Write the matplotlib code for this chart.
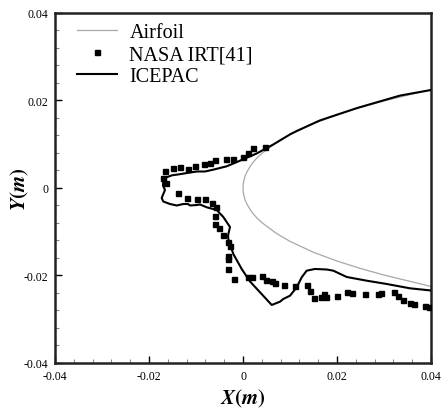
import numpy as np
import matplotlib
matplotlib.use("Agg")
import matplotlib.pyplot as plt
from matplotlib.ticker import MultipleLocator

plt.rcParams['font.family'] = ['Liberation Serif', 'DejaVu Serif']
plt.rcParams['mathtext.fontset'] = 'stix'

# perfil (semiespesor, simetrico)
perfil_x = [0.0, 0.00005, 0.0002, 0.0005, 0.001, 0.002, 0.003, 0.004, 0.007,
            0.010, 0.015, 0.020, 0.025, 0.030, 0.035, 0.040]
perfil_y = [0.0, 0.0009, 0.0018, 0.0029, 0.0040, 0.0057, 0.0069, 0.0079, 0.0103,
            0.0122, 0.0147, 0.0167, 0.0184, 0.0199, 0.0212, 0.0225]

# forma de hielo experimental (NASA IRT)
nasa_x = [0.00468, 0.00219, 0.00113, 0.00006, -0.00213, -0.00362, -0.00591, -0.00711,
          -0.00836, -0.01013, -0.01170, -0.01332, -0.01483, -0.01660, -0.01696, -0.01630,
          -0.01377, -0.01198, -0.00985, -0.00798, -0.00666, -0.00585, -0.00596, -0.00596,
          -0.00504, -0.00432, -0.00313, -0.00277, -0.00313, -0.00313, -0.00313, -0.00198,
          0.00113, 0.00185, 0.00398, 0.00489, 0.00611, 0.00681, 0.00877, 0.01117,
          0.01362, 0.01426, 0.01504, 0.01664, 0.01723, 0.01772, 0.02000, 0.02223,
          0.02313, 0.02589, 0.02868, 0.02940, 0.03206, 0.03304, 0.03411, 0.03547,
          0.03638, 0.03872, 0.03953]
nasa_y = [0.00930, 0.00903, 0.00805, 0.00709, 0.00667, 0.00663, 0.00651, 0.00571,
          0.00539, 0.00503, 0.00441, 0.00491, 0.00453, 0.00395, 0.00235, 0.00119,
          -0.00107, -0.00222, -0.00251, -0.00261, -0.00338, -0.00430, -0.00640, -0.00823,
          -0.00921, -0.01074, -0.01234, -0.01333, -0.01547, -0.01634, -0.01842, -0.02080,
          -0.02041, -0.02041, -0.02018, -0.02096, -0.02119, -0.02176, -0.02217, -0.02247,
          -0.02224, -0.02354, -0.02519, -0.02487, -0.02434, -0.02498, -0.02475, -0.02384,
          -0.02393, -0.02416, -0.02423, -0.02393, -0.02373, -0.02475, -0.02567, -0.02622,
          -0.02645, -0.02690, -0.02727]

# forma de hielo calculada (ICEPAC)
icepac_x = [0.04000, 0.03553, 0.03057, 0.02632, 0.02206, 0.01921, 0.01781, 0.01532,
            0.01426, 0.01355, 0.01249, 0.01143, 0.01000, 0.00857, 0.00787, 0.00611,
            0.00362, 0.00149, -0.00028, -0.00206, -0.00313, -0.00319, -0.00277, -0.00419,
            -0.00560, -0.00772, -0.00915, -0.00985, -0.01128, -0.01170, -0.01270, -0.01411,
            -0.01553, -0.01696, -0.01730, -0.01696, -0.01660, -0.01702, -0.01696, -0.01623,
            -0.01511, -0.01383, -0.01255, -0.01128, -0.00979, -0.00809, -0.00617, -0.00347,
            -0.00064, 0.00291, 0.00645, 0.01000, 0.01143, 0.01638, 0.02419, 0.03340, 0.04000]
icepac_y = [-0.02343, -0.02293, -0.02194, -0.02119, -0.02034, -0.01890, -0.01863, -0.01851,
            -0.01874, -0.01890, -0.02041, -0.02270, -0.02462, -0.02537, -0.02599, -0.02674,
            -0.02384, -0.02137, -0.01851, -0.01509, -0.01166, -0.01090, -0.00891, -0.00663,
            -0.00503, -0.00441, -0.00377, -0.00389, -0.00400, -0.00366, -0.00366, -0.00400,
            -0.00366, -0.00309, -0.00229, -0.00137, -0.00046, 0.00053, 0.00167, 0.00245,
            0.00290, 0.00309, 0.00331, 0.00354, 0.00377, 0.00377, 0.00423, 0.00496,
            0.00624, 0.00789, 0.00995, 0.01225, 0.01303, 0.01545, 0.01825, 0.02112, 0.02240]

ticks = [-0.04, -0.02, 0, 0.02, 0.04]
tick_labels = ['-0.04', '-0.02', '0', '0.02', '0.04']

px = np.array(perfil_x)
py = np.array(perfil_y)
contorno_x = np.r_[px[::-1], px[1:]]
contorno_y = np.r_[py[::-1], -py[1:]]

fig = plt.figure(figsize=(4.44, 4.14), dpi=100)
ax = fig.add_axes([0.1239, 0.1208, 0.8468, 0.8454])

ax.plot(contorno_x, contorno_y, color='#a8a8a8', lw=0.9, label='Airfoil', zorder=2)
ax.plot(nasa_x, nasa_y, color='black', linestyle='', marker='s', markersize=3.6,
        label='NASA IRT[41]', zorder=3)
ax.plot(icepac_x, icepac_y, color='black', lw=1.5, label='ICEPAC', zorder=4)

ax.set_xlim(-0.04, 0.04)
ax.set_ylim(-0.04, 0.04)
ax.set_xticks(ticks)
ax.set_xticklabels(tick_labels)
ax.set_yticks(ticks)
ax.set_yticklabels(tick_labels)
ax.xaxis.set_minor_locator(MultipleLocator(0.004))
ax.yaxis.set_minor_locator(MultipleLocator(0.004))
ax.tick_params(which='both', direction='in', labelsize=8.5, colors='black')
ax.tick_params(which='major', length=5, width=1.0, pad=5)
ax.tick_params(which='minor', length=3, width=0.8, color='#888888')

for s in ax.spines.values():
    s.set_linewidth(1.8)
    s.set_color('#222222')

ax.set_xlabel(r'$\mathbfit{X}\mathbf{(}\mathbfit{m}\mathbf{)}$', fontsize=15)
ax.set_ylabel(r'$\mathbfit{Y}\mathbf{(}\mathbfit{m}\mathbf{)}$', fontsize=15)
ax.xaxis.set_label_coords(0.5, -0.067)
ax.yaxis.set_label_coords(-0.064, 0.5)

ax.legend(loc='upper left', bbox_to_anchor=(0.032, 1.0), frameon=False,
          fontsize=14.5, numpoints=1, handlelength=2.0, handletextpad=0.6,
          labelspacing=0.15, borderaxespad=0.2, borderpad=0.3)

fig.savefig('out.png', dpi=100)
